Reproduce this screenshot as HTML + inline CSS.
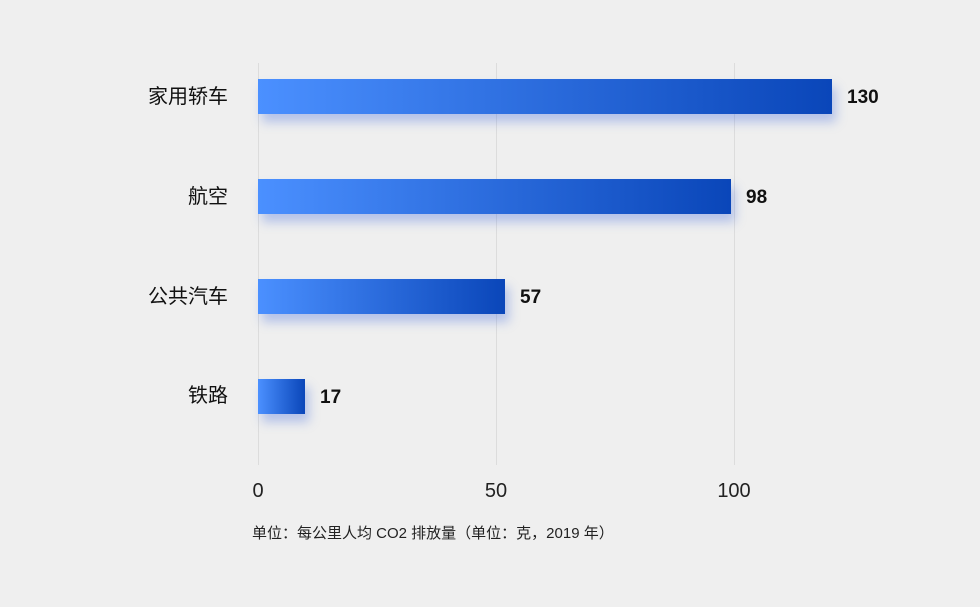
<!DOCTYPE html>
<html><head><meta charset="utf-8"><style>
body{margin:0;width:980px;height:607px;background:#efefef;position:relative;overflow:hidden;font-family:"Liberation Sans","Noto Sans CJK SC",sans-serif;}
.g{position:absolute;top:63px;height:402px;width:1px;background:#dcdcdc;}
.bar{position:absolute;left:258px;height:35px;background:linear-gradient(90deg,#4b90ff,#0a46b9);box-shadow:4px 8px 10px rgba(70,110,220,0.35);}
.v{position:absolute;font-weight:bold;font-size:19px;color:#111;line-height:20px;}
.c{position:absolute;right:752px;font-size:20px;color:#111;line-height:22px;}
.t{position:absolute;top:480px;font-size:20px;color:#222;width:80px;text-align:center;line-height:22px;}
</style></head><body>
<div class="g" style="left:258px"></div>
<div class="g" style="left:496px"></div>
<div class="g" style="left:734px"></div>
<div class="bar" style="top:79px;width:574px"></div>
<div class="bar" style="top:179px;width:473px"></div>
<div class="bar" style="top:279px;width:247px"></div>
<div class="bar" style="top:379px;width:47px"></div>
<div class="v" style="left:847px;top:88px">130</div>
<div class="v" style="left:746px;top:188px">98</div>
<div class="v" style="left:520px;top:288px">57</div>
<div class="v" style="left:320px;top:388px">17</div>
<div class="c" style="top:86px">家用轿车</div>
<div class="c" style="top:186px">航空</div>
<div class="c" style="top:286px">公共汽车</div>
<div class="c" style="top:385px">铁路</div>
<div class="t" style="left:218px">0</div>
<div class="t" style="left:456px">50</div>
<div class="t" style="left:694px">100</div>
<div style="position:absolute;left:252px;top:525px;font-size:15px;color:#222;line-height:18px">单位：每公里人均 CO2 排放量（单位：克，2019 年）</div>
</body></html>
